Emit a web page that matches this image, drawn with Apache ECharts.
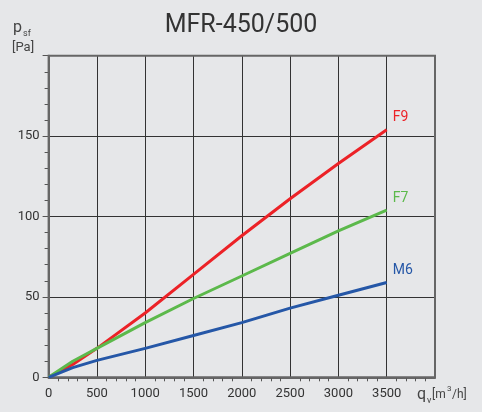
<!DOCTYPE html>
<html>
<head>
<meta charset="utf-8">
<script src="https://cdn.jsdelivr.net/npm/echarts@6/dist/echarts.min.js"></script>
<style>
  html, body { margin: 0; padding: 0; background: #e6e7e9; }
  #chart { width: 482px; height: 412px; }
</style>
</head>
<body>
<div id="chart"></div>
<script>
// airflow q_v [m3/h]
const flow = [0, 250, 500, 1000, 1500, 2000, 2500, 3000, 3500];
// static pressure p_sf [Pa] per filter class
const f9 = [0, 8, 18, 40, 64, 88, 111, 133, 154];
const f7 = [0, 10, 18, 34, 49, 63, 77, 91, 104];
const m6 = [0, 6, 10.5, 18, 26, 34, 43, 51, 59];

const seriesDefs = [
  { name: 'F9', data: f9, color: '#ec2227' },
  { name: 'F7', data: f7, color: '#5cb94b' },
  { name: 'M6', data: m6, color: '#2557a7' },
];

const font = 'Roboto, "DejaVu Sans", sans-serif';
const txtColor = '#444';
const myChart = echarts.init(document.getElementById('chart'));

// small helper for free-standing axis captions
const label = (text, x, y, size) => ({
  type: 'text',
  style: { text, x, y, fontSize: size, fill: txtColor, fontFamily: font, textVerticalAlign: 'middle' },
  silent: true,
});

const option = {
  backgroundColor: '#e6e7e9',
  animation: false,
  title: {
    text: 'MFR-450/500',
    left: 'center',
    top: 8,
    textStyle: { color: '#333', fontSize: 25, fontWeight: 'normal', fontFamily: font },
  },
  grid: { left: 48.6, right: 47, top: 55.7, bottom: 34.7, containLabel: false },
  xAxis: {
    type: 'value',
    min: 0,
    max: 4000,
    interval: 500,
    axisLine: { onZero: false, lineStyle: { color: '#666', width: 2 } },
    axisTick: { show: false },
    minorTick: { show: true, splitNumber: 5, length: 4, lineStyle: { color: '#555' } },
    axisLabel: {
      color: '#333',
      fontSize: 13,
      fontFamily: font,
      margin: 10,
      formatter: (v) => (v >= 4000 ? '' : String(v)),
    },
    splitLine: { show: true, lineStyle: { color: '#333', width: 1 } },
  },
  yAxis: {
    type: 'value',
    min: 0,
    max: 200,
    interval: 50,
    axisLine: { show: true, lineStyle: { color: '#666', width: 2 } },
    axisTick: { show: true, length: 6, lineStyle: { color: '#555' } },
    minorTick: { show: true, splitNumber: 5, length: 4, lineStyle: { color: '#555' } },
    axisLabel: {
      color: '#333',
      fontSize: 13,
      fontFamily: font,
      margin: 9,
      formatter: (v) => (v >= 200 ? '' : String(v)),
    },
    splitLine: { show: true, lineStyle: { color: '#333', width: 1 } },
  },
  series: seriesDefs.map((s) => ({
    name: s.name,
    type: 'line',
    smooth: false,
    symbol: 'none',
    data: flow.map((q, i) => [q, s.data[i]]),
    lineStyle: { color: s.color, width: 3, join: 'round' },
    endLabel: {
      show: true,
      formatter: s.name,
      color: s.color,
      fontSize: 14,
      fontFamily: font,
      offset: [-2, -12],
    },
  })),
  graphic: [
    {
      type: 'rect',
      shape: { x: 48.6, y: 55.7, width: 386.4, height: 321.6 },
      style: { fill: 'none', stroke: '#666', lineWidth: 2 },
      silent: true,
      z: 1,
    },
    label('p', 13, 28, 16),
    label('sf', 23, 34, 9),
    label('[Pa]', 12, 48, 13),
    label('q', 417, 395, 16),
    label('v', 427, 401, 9),
    label('[m', 432, 395, 12),
    label('3', 447, 389, 8),
    label('/h]', 452, 395, 12),
  ],
};

myChart.setOption(option);
</script>
</body>
</html>
